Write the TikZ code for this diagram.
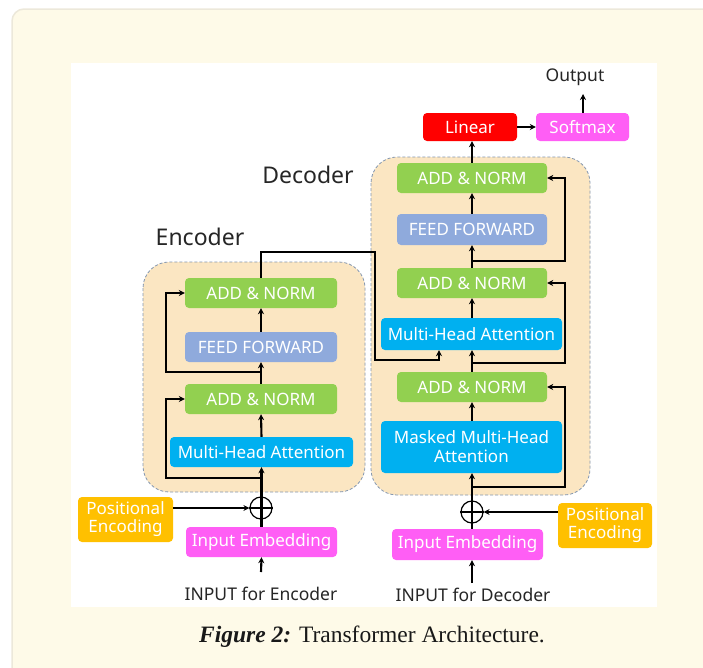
\documentclass[tikz,border=0pt]{standalone}
\usepackage{fontspec}
\setmainfont{Noto Sans}
\newfontfamily\capfont{Liberation Serif}
\usetikzlibrary{arrows.meta,calc}
\definecolor{cream}{HTML}{FEFAE8}
\definecolor{panelline}{HTML}{ECE8DA}
\definecolor{grpfill}{HTML}{FBE6C2}
\definecolor{grpline}{HTML}{8497B0}
\definecolor{agreen}{HTML}{92D050}
\definecolor{ffblue}{HTML}{8FAADC}
\definecolor{mhacyan}{HTML}{00B0F0}
\definecolor{peorange}{HTML}{FFC000}
\definecolor{embpink}{HTML}{FF5EF5}
\definecolor{linred}{HTML}{FF0000}
\tikzset{
  blk/.style={rounded corners=4pt, draw=none, text=white, font=\fontsize{17}{20}\selectfont, align=center, inner sep=0pt},
  grp/.style={rounded corners=26pt, draw=grpline, fill=grpfill, line width=0.8pt, dash pattern=on 3pt off 2pt},
  arr/.style={line width=2.1pt, -{Stealth[length=6pt,width=6pt]}},
  plus/.style={circle, draw, line width=1.2pt, minimum size=22pt, inner sep=0pt},
  lbl/.style={text=black!85, font=\fontsize{17.5}{21}\selectfont},
  title/.style={text=black!85, font=\fontsize{23}{27}\selectfont}
}
\begin{document}
\begin{tikzpicture}[x=1pt,y=-1pt]
\useasboundingbox (0,0) rectangle (703,667);
\clip (0,0) rectangle (703,667);
\draw[fill=cream, draw=panelline, line width=1.5pt, rounded corners=12pt] (12,9) rectangle (730,690);
\fill[white] (71,63) rectangle (657,607);

% groups
\draw[grp] (143,262) rectangle (365,492);
\draw[grp] (371,157) rectangle (590,495);
\node[title] (enclbl) at (200,237) {Encoder};
\node[title] (declbl) at (308,175) {Decoder};

% encoder blocks
\node[blk, fill=agreen, minimum width=152pt, minimum height=30pt] (eAN2) at (261,293) {ADD \& NORM};
\node[blk, fill=ffblue, minimum width=152pt, minimum height=30pt] (eFF) at (261,347) {FEED FORWARD};
\node[blk, fill=agreen, minimum width=152pt, minimum height=30pt] (eAN1) at (261,399) {ADD \& NORM};
\node[blk, fill=mhacyan, minimum width=183pt, minimum height=30pt] (eMHA) at (261.5,452) {Multi-Head Attention};
\node[blk, fill=peorange, minimum width=95pt, minimum height=45pt] (ePE) at (125.5,519.5) {Positional\\[-2pt]Encoding};
\node[blk, fill=embpink, minimum width=151pt, minimum height=30pt] (eIE) at (261.5,542) {Input Embedding};
\node[lbl] (eIn) at (261,594) {INPUT for Encoder};

% decoder blocks
\node[blk, fill=linred, minimum width=94pt, minimum height=28pt] (dLin) at (470,127) {Linear};
\node[blk, fill=embpink, minimum width=93pt, minimum height=28pt] (dSoft) at (582.5,127) {Softmax};
\node[lbl] (dOut) at (575,77) {Output};
\node[blk, fill=agreen, minimum width=150pt, minimum height=30pt] (dAN3) at (472,178) {ADD \& NORM};
\node[blk, fill=ffblue, minimum width=150pt, minimum height=31pt] (dFF) at (472,229.5) {FEED FORWARD};
\node[blk, fill=agreen, minimum width=150pt, minimum height=30pt] (dAN2) at (472,283) {ADD \& NORM};
\node[blk, fill=mhacyan, minimum width=181pt, minimum height=32pt] (dMHA) at (471.5,334) {Multi-Head Attention};
\node[blk, fill=agreen, minimum width=150pt, minimum height=30pt] (dAN1) at (472,387) {ADD \& NORM};
\node[blk, fill=mhacyan, minimum width=181pt, minimum height=52pt] (dMMHA) at (471.5,447) {Masked Multi-Head\\[-1pt]Attention};
\node[blk, fill=peorange, minimum width=94pt, minimum height=45pt] (dPE) at (605,525.5) {Positional\\[-2pt]Encoding};
\node[blk, fill=embpink, minimum width=151pt, minimum height=31pt] (dIE) at (467.5,544.5) {Input Embedding};
\node[lbl] (dIn) at (473,595) {INPUT for Decoder};

% plus circles
\node[plus] (eplus) at (261,508) {};
\node[plus] (dplus) at (472,512) {};
\draw[line width=1.2pt] (eplus.west) -- (eplus.east);
\draw[line width=1.2pt] (dplus.west) -- (dplus.east);

% encoder connectors
\coordinate (eInA) at (261,572);
\draw[arr] (eInA) -- (eIE.south);
\draw[arr] (eIE.north) -- (eMHA.south);
\draw[arr] (ePE.east |- eplus) -- (eplus.west);
\coordinate (er1) at (261,478);
\coordinate (er1c) at (166,478);
\draw[arr] (er1) -- (er1c) |- (eAN1.west);
\draw[arr] (eMHA.north) -- (eAN1.south);
\draw[arr] (eAN1.north) -- (eFF.south);
\coordinate (er2) at (261,372);
\coordinate (er2c) at (166,372);
\draw[arr] (er2) -- (er2c) |- (eAN2.west);
\draw[arr] (eFF.north) -- (eAN2.south);
\coordinate (ec1) at (261,252);
\coordinate (ec2) at (375,252);
\coordinate (ec3) at (375,360);
\coordinate (ec4) at (439,360);
\draw[arr] (eAN2.north) -- (ec1) -- (ec2) -- (ec3) -- (ec4) -- (ec4 |- dMHA.south);

% decoder connectors
\coordinate (dInA) at (472,583);
\draw[arr] (dInA) -- (dIE.south -| dplus);
\draw[arr] (dIE.north -| dplus) -- (dMMHA.south -| dplus);
\draw[arr] (dPE.west |- dplus) -- (dplus.east);
\coordinate (dr1) at (472,487);
\coordinate (dr1c) at (565,487);
\draw[arr] (dr1) -- (dr1c) |- (dAN1.east);
\draw[arr] (dMMHA.north -| dplus) -- (dAN1.south -| dplus);
\draw[arr] (dAN1.north -| dplus) -- (dMHA.south -| dplus);
\coordinate (dr2) at (472,363);
\coordinate (dr2c) at (565,363);
\draw[arr] (dr2) -- (dr2c) |- (dAN2.east);
\draw[arr] (dMHA.north -| dplus) -- (dAN2.south -| dplus);
\draw[arr] (dAN2.north -| dplus) -- (dFF.south -| dplus);
\coordinate (dr3) at (472,261);
\coordinate (dr3c) at (565,261);
\draw[arr] (dr3) -- (dr3c) |- (dAN3.east);
\draw[arr] (dFF.north -| dplus) -- (dAN3.south -| dplus);
\draw[arr] (dAN3.north -| dplus) -- (dLin.south -| dplus);
\draw[arr] (dLin.east) -- (dSoft.west);
\coordinate (dOutA) at (583,94);
\draw[arr] (dSoft.north -| dOutA) -- (dOutA);

% caption
\node[font=\capfont\fontsize{23.5}{28}\selectfont, text=black!90] (cap) at (372,637) {\textbf{\textit{Figure 2:}} Transformer Architecture.};
\end{tikzpicture}
\end{document}
